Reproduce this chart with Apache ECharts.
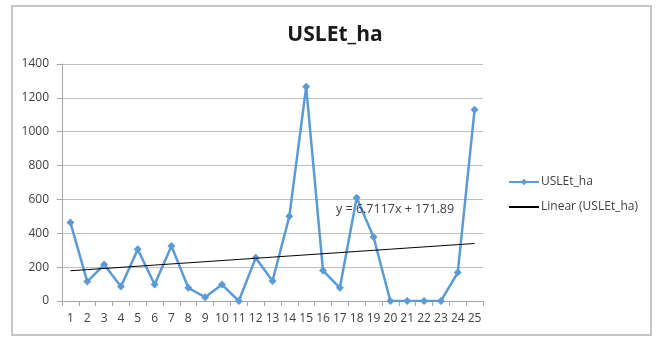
<!DOCTYPE html>
<html>
<head>
<meta charset="utf-8">
<script src="https://cdn.jsdelivr.net/npm/echarts@6/dist/echarts.min.js"></script>
<style>
  html, body { margin: 0; padding: 0; background: #fff; }
  #chart { width: 657px; height: 338px; }
</style>
</head>
<body>
<div id="chart"></div>
<script>
// Periods 1..25 and the USLE soil loss per hectare for each
const categories = ['1','2','3','4','5','6','7','8','9','10','11','12','13','14','15','16','17','18','19','20','21','22','23','24','25'];
const usleValues = [463, 115, 215, 85, 305, 97, 325, 78, 22, 97, 0, 255, 118, 500, 1265, 180, 78, 610, 378, 0, 0, 0, 0, 168, 1130];
// Linear trend coefficients (y = slope * x + intercept)
const trendSlope = 6.7117;
const trendIntercept = 171.89;
const trendLabel = 'y = 6.7117x + 171.89';

const trendValues = categories.map((c, i) => +(trendSlope * (i + 1) + trendIntercept).toFixed(2));

const font = '"Open Sans", "Liberation Sans", sans-serif';
const chart = echarts.init(document.getElementById('chart'));
chart.setOption({
  animation: false,
  title: {
    text: 'USLEt_ha',
    left: 330, top: 20, textAlign: 'center',
    textStyle: { fontFamily: font, fontSize: 21, fontWeight: 'bold', color: '#1a1a1a' }
  },
  grid: { left: 62, right: 174, top: 64, bottom: 37 },
  xAxis: {
    type: 'category',
    data: categories,
    boundaryGap: true,
    axisLine: { lineStyle: { color: '#a6a6a6', width: 1 } },
    axisTick: { show: true, length: 5, lineStyle: { color: '#a6a6a6' } },
    axisLabel: { color: '#404040', fontFamily: font, fontSize: 12, margin: 12, interval: 0 }
  },
  yAxis: {
    type: 'value',
    min: 0, max: 1400, interval: 200,
    axisLine: { show: true, lineStyle: { color: '#a6a6a6', width: 1 } },
    axisTick: { show: true, length: 5, lineStyle: { color: '#a6a6a6' } },
    axisLabel: { color: '#404040', fontFamily: font, fontSize: 12, margin: 13, formatter: v => String(v) },
    splitLine: { lineStyle: { color: '#bfbfbf', width: 1 } }
  },
  legend: {
    orient: 'vertical',
    left: 503, top: 171,
    itemWidth: 30, itemHeight: 8, itemGap: 13,
    textStyle: { fontFamily: font, fontSize: 12, color: '#404040', padding: [0, 0, 0, -3] },
    data: [
      { name: 'USLEt_ha' },
      { name: 'Linear (USLEt_ha)', itemStyle: { opacity: 0 } }
    ]
  },
  series: [
    {
      name: 'USLEt_ha',
      type: 'line',
      data: usleValues,
      symbol: 'diamond',
      symbolSize: 8,
      lineStyle: { color: '#5b9bd5', width: 2.5 },
      itemStyle: { color: '#5b9bd5' },
      z: 2
    },
    {
      name: 'Linear (USLEt_ha)',
      type: 'line',
      data: trendValues,
      symbol: 'none',
      lineStyle: { color: '#000', width: 1 },
      itemStyle: { color: '#000' },
      z: 3
    }
  ],
  graphic: [
    {
      type: 'rect',
      shape: { x: 12, y: 6, width: 639, height: 329 },
      style: { fill: 'none', stroke: '#c6c6c6', lineWidth: 2 },
      silent: true
    },
    {
      type: 'text',
      left: 336, top: 203,
      style: { text: trendLabel, fontFamily: font, fontSize: 12.5, fill: '#404040' },
      z: 10
    }
  ]
});
</script>
</body>
</html>
